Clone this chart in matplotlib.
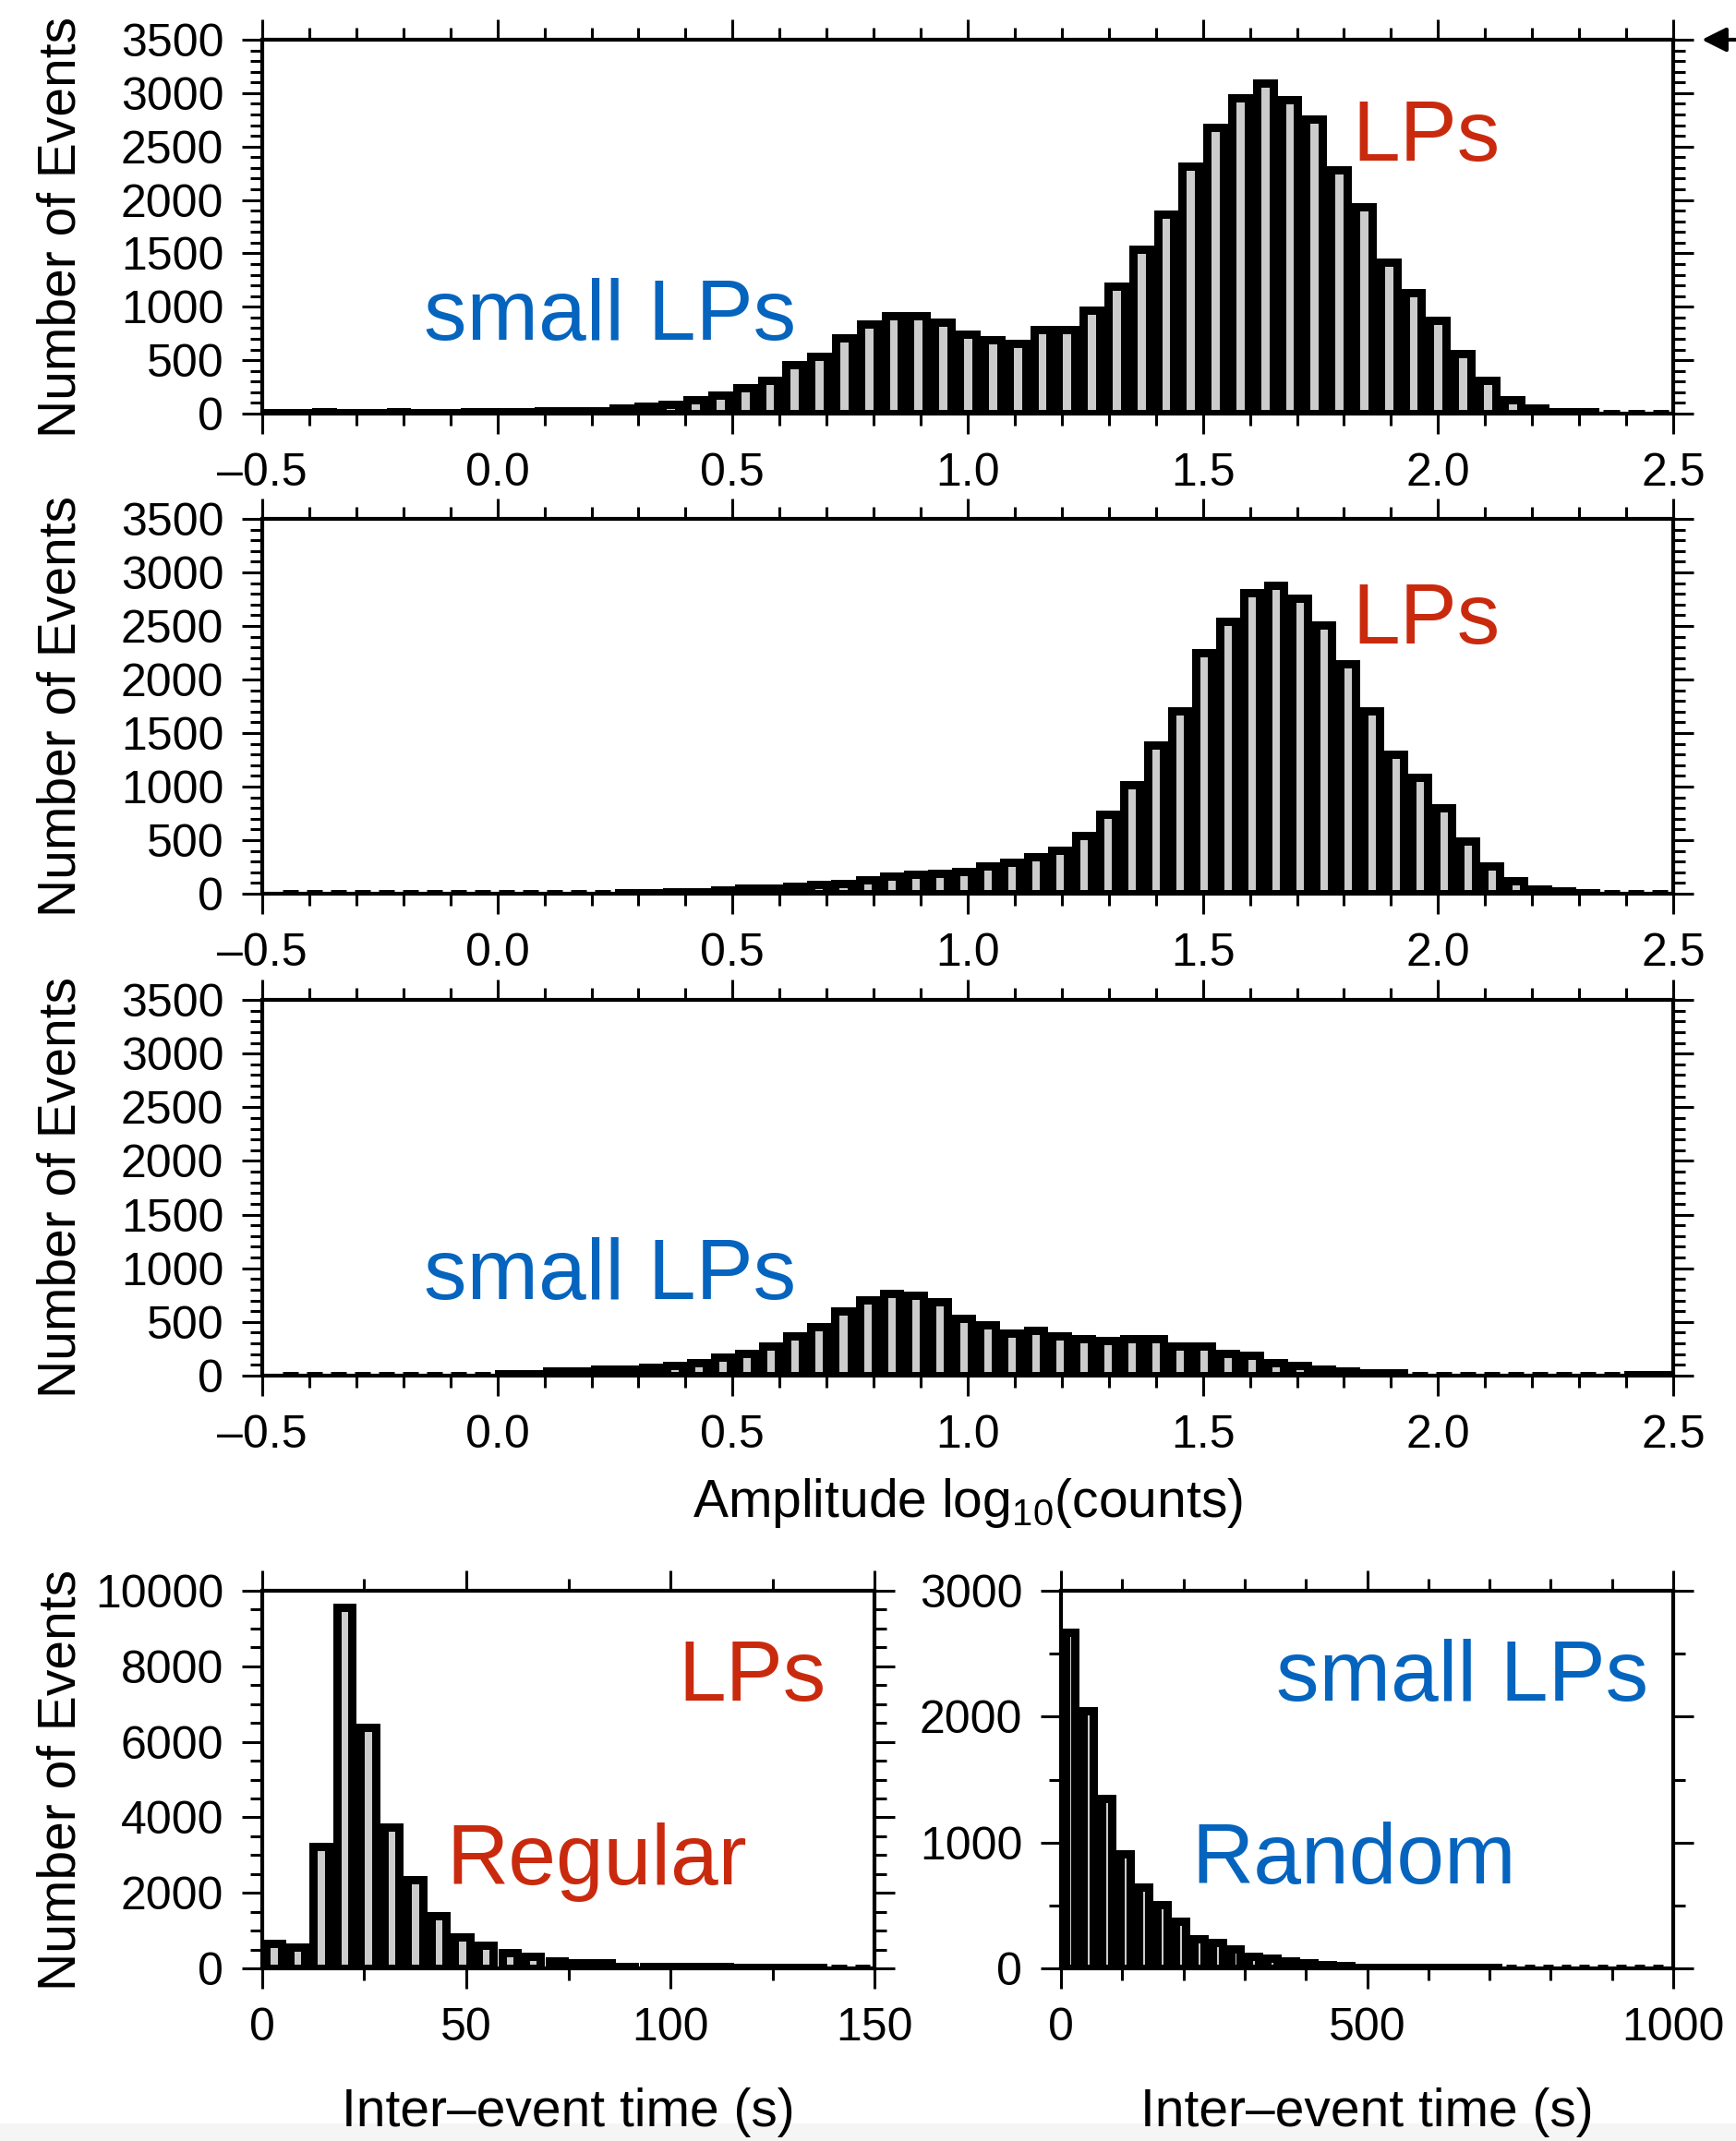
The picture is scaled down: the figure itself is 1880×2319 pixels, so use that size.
import matplotlib
matplotlib.use('Agg')
import matplotlib.pyplot as plt
from matplotlib.ticker import MultipleLocator, FuncFormatter
from matplotlib.patches import Rectangle
import numpy as np

plt.rcParams['font.family'] = ['Liberation Sans', 'DejaVu Sans']
plt.rcParams['mathtext.fontset'] = 'custom'
plt.rcParams['mathtext.rm'] = 'Liberation Sans'
plt.rcParams['mathtext.default'] = 'regular'

# ---------------- data ----------------
# all events: 57 bins spanning -0.5 .. 2.5
amp_all_range = (-0.5, 2.5)
amp_all = [5, 5, 20, 5, 5, 20, 5, 5, 15, 15,
           15, 30, 30, 30, 50, 65, 85, 130, 175, 245,
           315, 455, 540, 705, 840, 920, 920, 855, 740, 690,
           660, 790, 790, 970, 1190, 1540, 1865, 2315, 2675, 2955,
           3090, 2940, 2760, 2280, 1935, 1420, 1135, 875, 560, 315,
           130, 50, 15, 15, 3, 3, 3]
# LPs / small LPs: 58 bins spanning -0.466 .. 2.498
amp_sub_range = (-0.466, 2.498)
amp_lps = [3, 3, 3, 3, 3, 3, 3, 3, 3, 3,
           3, 3, 3, 3, 5, 5, 20, 14, 37, 49,
           49, 66, 86, 95, 130, 164, 181, 193, 210, 259,
           293, 345, 408, 541, 739, 1021, 1386, 1711, 2249, 2540,
           2810, 2876, 2755, 2511, 2143, 1711, 1300, 1084, 805, 489,
           259, 124, 43, 23, 9, 3, 3, 3]
amp_small = [3, 3, 3, 3, 3, 3, 3, 3, 3, 14,
             14, 43, 43, 57, 57, 77, 95, 120, 172, 206,
             272, 367, 452, 601, 702, 765, 750, 687, 536, 473,
             392, 421, 372, 344, 329, 344, 344, 272, 272, 209,
             186, 123, 95, 57, 43, 23, 23, 4, 4, 4,
             4, 4, 4, 4, 4, 4, 6, 6]
# inter-event time histograms
iet_lps_range = (0, 150)      # 26 bins
iet_lps = [652, 554, 3236, 9560, 6373, 3749, 2339, 1402, 839, 611,
           424, 326, 187, 139, 139, 40, 40, 40, 40, 40,
           20, 20, 20, 20, 5, 5]
iet_small_bin = 30            # seconds, starting at 0
iet_small = [2672, 2049, 1347, 912, 643, 504, 374, 235, 203, 154,
             98, 81, 61, 44, 32, 20, 7, 7, 7, 7,
             7, 7, 7, 7, 2, 2, 2, 2, 2, 2,
             2, 2, 2]

RED = '#c92a0e'
BLUE = '#0564be'
GRAY = '#cccccc'

# ---------------- figure ----------------
W, H = 1881, 2319
DPI = 100
fig = plt.figure(figsize=(W / DPI, H / DPI), dpi=DPI)


def add_ax(left, top, right, bottom):
    return fig.add_axes([left / W, 1 - bottom / H, (right - left) / W, (bottom - top) / H])


OUT_PX = 9.0  # outline width in pixels
LW = OUT_PX * 72 / DPI


def draw_hist(ax, edges, values, px_per_unit):
    edges = np.asarray(edges, float)
    widths = np.diff(edges)
    centers = edges[:-1] + widths / 2
    wdata = OUT_PX / px_per_unit
    bars = ax.bar(centers, values, width=widths - wdata, color=GRAY,
                  edgecolor='black', linewidth=LW, align='center', zorder=2)
    for b in bars:
        b.set_joinstyle('miter')


def style_ax(ax, xmaj, xmin, ymaj, ymin):
    for s in ax.spines.values():
        s.set_linewidth(3.0)
        s.set_zorder(5)
    ax.xaxis.set_major_locator(MultipleLocator(xmaj))
    ax.xaxis.set_minor_locator(MultipleLocator(xmin))
    ax.yaxis.set_major_locator(MultipleLocator(ymaj))
    ax.yaxis.set_minor_locator(MultipleLocator(ymin))
    ax.tick_params(which='both', direction='out', top=True, right=True,
                   labeltop=False, labelright=False, width=2.2, color='black')
    ax.tick_params(which='major', length=16, labelsize=36)
    ax.tick_params(which='minor', length=9.5)
    ax.tick_params(axis='x', pad=14.5)
    ax.tick_params(axis='y', pad=14)


def dash_fmt(fmt):
    return FuncFormatter(lambda v, p: (fmt % v).replace('-', '\u2013'))


amp_px = 1528 / 3.0
edges_all = np.linspace(amp_all_range[0], amp_all_range[1], len(amp_all) + 1)
edges_sub = np.linspace(amp_sub_range[0], amp_sub_range[1], len(amp_lps) + 1)

panels = [
    (43, 448, edges_all, amp_all, [('small LPs', BLUE, -0.156, 690), ('LPs', RED, 1.817, 2366)]),
    (562, 968, edges_sub, amp_lps, [('LPs', RED, 1.817, 2336)]),
    (1083, 1490, edges_sub, amp_small, [('small LPs', BLUE, -0.156, 714)]),
]
for top, bottom, edges, vals, labels in panels:
    ax = add_ax(284, top, 1812, bottom)
    draw_hist(ax, edges, vals, amp_px)
    ax.set_xlim(-0.5, 2.5)
    ax.set_ylim(0, 3500)
    style_ax(ax, 0.5, 0.1, 500, 100)
    ax.xaxis.set_major_formatter(dash_fmt('%.1f'))
    ax.yaxis.set_major_formatter(FuncFormatter(lambda v, p: '%d' % v))
    ax.set_ylabel('Number of Events', fontsize=41)
    ax.yaxis.set_label_coords((94 - 284) / 1528, 0.5)
    for txt, col, x, y in labels:
        ax.text(x, y, txt, color=col, fontsize=67, ha='left', va='baseline', zorder=6)

fig.text(0.5 * (284 + 1812) / W, 1 - 1643 / H, r'Amplitude log$_{10}$(counts)',
         fontsize=41, ha='center', va='baseline')

# bottom-left: LPs inter-event time
axl = add_ax(284, 1723, 947, 2132)
lps_edges = np.linspace(iet_lps_range[0], iet_lps_range[1], len(iet_lps) + 1)
draw_hist(axl, lps_edges, iet_lps, 663 / 150)
axl.set_xlim(0, 150)
axl.set_ylim(0, 10000)
style_ax(axl, 50, 25, 2000, 500)
axl.xaxis.set_major_formatter(FuncFormatter(lambda v, p: '%d' % v))
axl.yaxis.set_major_formatter(FuncFormatter(lambda v, p: '%d' % v))
axl.set_ylabel('Number of Events', fontsize=41)
axl.yaxis.set_label_coords((94 - 284) / 663, 0.5)
axl.text(101.8, 7090, 'LPs', color=RED, fontsize=67, ha='left', va='baseline', zorder=6)
axl.text(45.0, 2225, 'Regular', color=RED, fontsize=67, ha='left', va='baseline', zorder=6)
fig.text((284 + 947) / 2 / W, 1 - 2303 / H, 'Inter\u2013event time (s)',
         fontsize=41, ha='center', va='baseline')

# bottom-right: small LPs inter-event time
axr = add_ax(1149, 1723, 1812, 2132)
small_edges = np.arange(len(iet_small) + 1) * iet_small_bin
draw_hist(axr, small_edges, iet_small, 663 / 1000)
axr.set_xlim(0, 1000)
axr.set_ylim(0, 3000)
style_ax(axr, 500, 100, 1000, 500)
axr.xaxis.set_major_formatter(FuncFormatter(lambda v, p: '%d' % v))
axr.yaxis.set_major_formatter(FuncFormatter(lambda v, p: '%d' % v))
axr.text(351, 2127, 'small LPs', color=BLUE, fontsize=67, ha='left', va='baseline', zorder=6)
axr.text(213, 675, 'Random', color=BLUE, fontsize=67, ha='left', va='baseline', zorder=6)
fig.text((1149 + 1812) / 2 / W, 1 - 2303 / H, 'Inter\u2013event time (s)',
         fontsize=41, ha='center', va='baseline')

# partial arrow at the top-right edge
fig.add_artist(plt.Annotation('', xy=(1843, H - 43), xytext=(1895, H - 43),
                              xycoords='figure pixels', textcoords='figure pixels',
                              arrowprops=dict(arrowstyle='-|>', lw=3, color='black',
                                              mutation_scale=40, shrinkA=0, shrinkB=0)))

# faint grey strip at the bottom of the screenshot
fig.add_artist(Rectangle((0, 0), 1, 19 / H, transform=fig.transFigure,
                         facecolor='#f5f5f5', edgecolor='none', zorder=-1))

fig.savefig('out.png', dpi=DPI)
